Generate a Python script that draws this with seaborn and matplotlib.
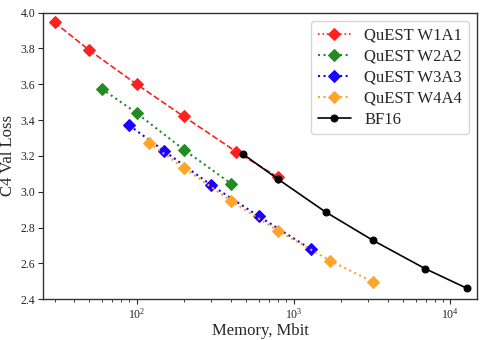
import numpy as np
import pandas as pd
import matplotlib
matplotlib.use("Agg")
import matplotlib.pyplot as plt
import seaborn as sns

# Memory footprint (Mbit) and C4 validation loss for each configuration
w1a1_mem = [30, 50, 100, 200, 430, 800]
w1a1_loss = [3.945, 3.790, 3.600, 3.420, 3.224, 3.080]

w2a2_mem = [60, 100, 200, 400]
w2a2_loss = [3.575, 3.439, 3.235, 3.045]

w3a3_mem = [90, 150, 300, 600, 1290]
w3a3_loss = [3.370, 3.227, 3.036, 2.863, 2.679]

w4a4_mem = [120, 200, 400, 800, 1720, 3200]
w4a4_loss = [3.271, 3.134, 2.948, 2.781, 2.614, 2.497]

bf16_mem = [480, 800, 1600, 3200, 6880, 12800]
bf16_loss = [3.208, 3.069, 2.887, 2.729, 2.571, 2.460]

series_names = ["QuEST W1A1", "QuEST W2A2", "QuEST W3A3", "QuEST W4A4", "BF16"]

sns.set_style("ticks")
plt.rcParams["font.family"] = ["Liberation Serif", "DejaVu Serif"]
plt.rcParams["mathtext.fontset"] = "stix"

frames = []
for name, m, l in zip(series_names,
                      [w1a1_mem, w2a2_mem, w3a3_mem, w4a4_mem, bf16_mem],
                      [w1a1_loss, w2a2_loss, w3a3_loss, w4a4_loss, bf16_loss]):
    frames.append(pd.DataFrame({"memory": m, "loss": l, "series": name}))
df = pd.concat(frames, ignore_index=True)

styles = {
    "QuEST W1A1": dict(color="#ff2020", linestyle="--", marker="D", markersize=6, linewidth=1.2),
    "QuEST W2A2": dict(color="#228b22", linestyle=":", marker="D", markersize=6, linewidth=1.5),
    "QuEST W3A3": dict(color="#1a00ff", linestyle=":", marker="D", markersize=6, linewidth=1.5),
    "QuEST W4A4": dict(color="#ffa52a", linestyle=":", marker="D", markersize=6, linewidth=1.5),
    "BF16": dict(color="black", linestyle="-", marker="o", markersize=5, linewidth=1.2),
}

fig = plt.figure(figsize=(4.82, 3.40), dpi=100)
ax = fig.add_axes([0.089, 0.120, 0.901, 0.843])

for name in series_names:
    sub = df[df["series"] == name]
    st = styles[name]
    sns.lineplot(data=sub, x="memory", y="loss", ax=ax, label=name,
                 color=st["color"], linestyle=st["linestyle"], marker=st["marker"],
                 markersize=st["markersize"], linewidth=st["linewidth"],
                 markeredgecolor=st["color"], sort=False, errorbar=None)

ax.set_xscale("log")
ax.set_xlim(25.3, 14800)
ax.set_ylim(2.4, 4.0)
ax.set_yticks(np.arange(2.4, 4.01, 0.2))
ax.set_yticklabels([f"{v:.1f}" for v in np.arange(2.4, 4.01, 0.2)])
ax.set_xlabel("Memory, Mbit", fontsize=12, labelpad=1)
ax.set_ylabel("C4 Val Loss", fontsize=12, labelpad=3)
ax.tick_params(axis="both", labelsize=8.5, pad=2)
for sp in ax.spines.values():
    sp.set_color("#333333")
    sp.set_linewidth(1.0)

leg = ax.legend(loc="upper right", fontsize=12, frameon=True, fancybox=True,
                handlelength=2.0, borderpad=0.4, labelspacing=0.3,
                borderaxespad=0.5)
leg.get_frame().set_edgecolor("#cccccc")
for line in leg.get_lines()[:4]:
    line.set_linestyle(":")

fig.savefig("out.png", dpi=100)
